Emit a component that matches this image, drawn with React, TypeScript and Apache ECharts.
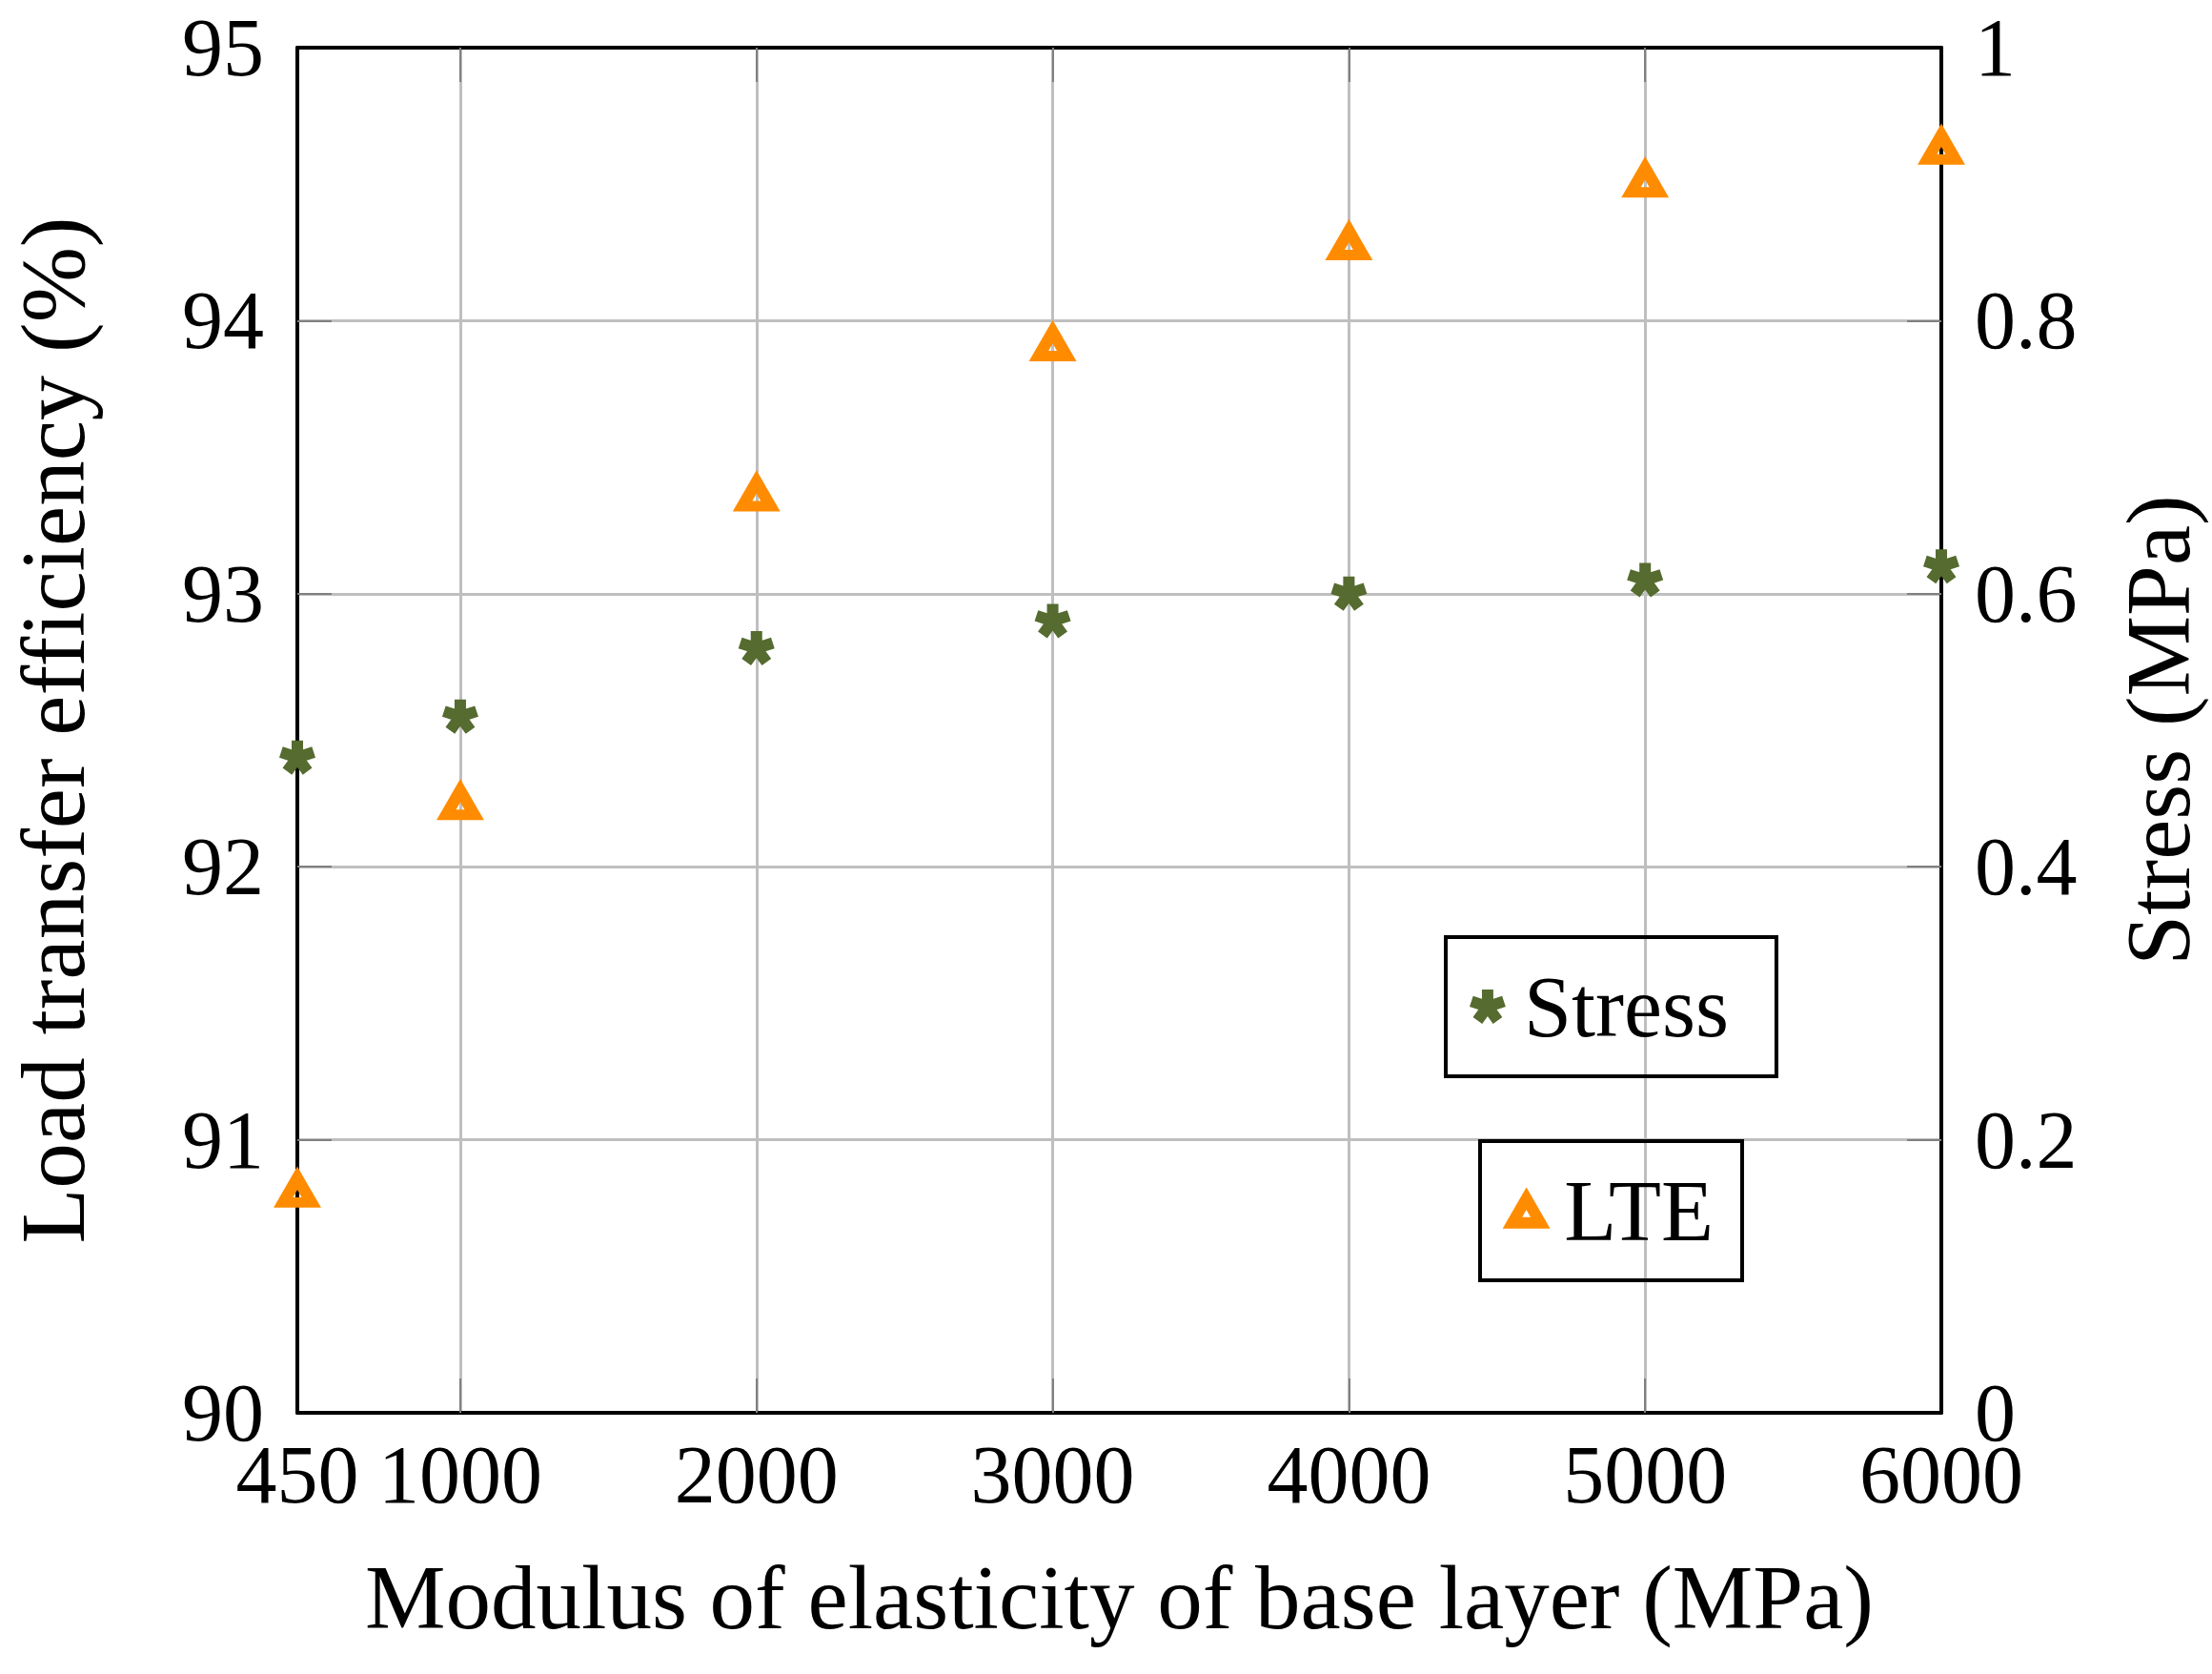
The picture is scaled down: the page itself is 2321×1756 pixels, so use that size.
import React, { useEffect, useRef } from 'react';
import * as echarts from 'echarts';

// base layer modulus (MPa)
const modulus = [450, 1000, 2000, 3000, 4000, 5000, 6000];
// load transfer efficiency (%), left axis
const lteValues = [90.8, 92.22, 93.35, 93.9, 94.27, 94.5, 94.62];
// stress (MPa), right axis
const stressValues = [0.48, 0.51, 0.56, 0.58, 0.6, 0.61, 0.62];

// tick positions (inner ones only get tick marks and grid lines, the frame covers the ends)
const xLabels = [450, 1000, 2000, 3000, 4000, 5000, 6000];
const xInnerTicks = [1000, 2000, 3000, 4000, 5000];
const lteInnerTicks = [91, 92, 93, 94];
const stressInnerTicks = [0.2, 0.4, 0.6, 0.8];

const FONT = 'Liberation Serif';
const FS = 86;
const TITLE_FS = 95;
const LEGEND_FS = 90;
const GREEN = '#556B2F';
const ORANGE = '#FF8C00';
const GRID = '#bfbfbf';
const TICK = '#808080';

// five thick strokes from the centre, like a pgfplots "star" mark
function starPath(len: number, half: number, back: number) {
  let d = '';
  for (let k = 0; k < 5; k++) {
    const a = ((-90 + 72 * k) * Math.PI) / 180;
    const dx = Math.cos(a), dy = Math.sin(a);
    const nx = -dy, ny = dx;
    const pts = [
      [-back * dx + half * nx, -back * dy + half * ny],
      [len * dx + half * nx, len * dy + half * ny],
      [len * dx - half * nx, len * dy - half * ny],
      [-back * dx - half * nx, -back * dy - half * ny],
    ];
    d += 'M' + pts.map(p => (p[0] + 20).toFixed(2) + ' ' + (p[1] + 20).toFixed(2)).join('L') + 'Z';
  }
  return 'path://' + d;
}

const STAR = starPath(18, 6, 2);
const TRI_W = 29.4, TRI_H = 25.5, TRI_BORDER = 11.8;

export default function App() {
  const ref = useRef<HTMLDivElement | null>(null);

  useEffect(() => {
    document.body.style.margin = '0';
    if (!ref.current) return;
    const chart = echarts.init(ref.current, undefined, { renderer: 'svg' });

    const axisText = { color: '#000', fontFamily: FONT, fontSize: FS };
    const titleText = { color: '#000', fontFamily: FONT, fontSize: TITLE_FS };
    const legendText = { color: '#000', fontFamily: FONT, fontSize: LEGEND_FS, lineHeight: LEGEND_FS };
    const axisLine = { show: true, lineStyle: { color: '#000', width: 4 } };
    const tick = (vals: number[]) => ({
      show: true,
      inside: true,
      length: 36,
      customValues: vals,
      lineStyle: { color: TICK, width: 2 },
    });
    const gridLine = { show: true, lineStyle: { color: GRID, width: 3 } };
    const triStyle = {
      color: 'rgba(0,0,0,0)',
      opacity: 1,
      borderColor: ORANGE,
      borderWidth: TRI_BORDER,
      borderJoin: 'miter',
      borderMiterLimit: 10,
    };

    chart.setOption({
      animation: false,
      backgroundColor: '#fff',
      textStyle: { fontFamily: FONT },
      grid: { left: 312, right: 284, top: 50, bottom: 274, containLabel: false },
      legend: [
        {
          data: [{ name: 'Stress', icon: STAR }],
          left: 1517,
          top: 983,
          orient: 'horizontal',
          selectedMode: false,
          itemWidth: 38,
          itemHeight: 36,
          padding: [28, 50, 28, 25],
          borderColor: '#000',
          borderWidth: 4,
          borderRadius: 0,
          itemStyle: { opacity: 1 },
          textStyle: { ...legendText, padding: [0, 0, 0, 14] },
        },
        {
          data: [{ name: 'LTE', icon: 'triangle', itemStyle: triStyle }],
          left: 1553,
          top: 1197,
          orient: 'horizontal',
          selectedMode: false,
          itemWidth: TRI_W,
          itemHeight: TRI_H,
          padding: [28, 30, 28, 28],
          borderColor: '#000',
          borderWidth: 4,
          borderRadius: 0,
          itemStyle: triStyle,
          textStyle: { ...legendText, padding: [0, 0, 0, 20] },
        },
      ],
      xAxis: [
        {
          type: 'value',
          position: 'bottom',
          min: 450,
          max: 6000,
          splitNumber: 5,
          name: 'Modulus of elasticity of base layer (MPa)',
          nameLocation: 'middle',
          nameGap: 146,
          nameTextStyle: titleText,
          axisLine,
          axisTick: tick(xInnerTicks),
          axisLabel: {
            ...axisText,
            margin: 22,
            customValues: xLabels,
            showMinLabel: true,
            showMaxLabel: true,
            formatter: (v: number) => String(v),
          },
          splitLine: gridLine,
        },
        {
          type: 'value',
          position: 'top',
          min: 450,
          max: 6000,
          splitNumber: 5,
          axisLine,
          axisTick: tick(xInnerTicks),
          axisLabel: { show: false },
          splitLine: { show: false },
        },
      ],
      yAxis: [
        {
          type: 'value',
          position: 'left',
          min: 90,
          max: 95,
          interval: 1,
          name: 'Load transfer efficiency (%)',
          nameLocation: 'middle',
          nameGap: 209,
          nameTextStyle: titleText,
          axisLine,
          axisTick: tick(lteInnerTicks),
          axisLabel: { ...axisText, margin: 35 },
          splitLine: gridLine,
        },
        {
          type: 'value',
          position: 'right',
          min: 0,
          max: 1,
          interval: 0.2,
          name: 'Stress (MPa)',
          nameLocation: 'middle',
          nameGap: 180,
          nameTextStyle: titleText,
          axisLine,
          axisTick: tick(stressInnerTicks),
          axisLabel: { ...axisText, margin: 35 },
          splitLine: { show: false },
        },
      ],
      series: [
        {
          name: 'Stress',
          type: 'scatter',
          xAxisIndex: 0,
          yAxisIndex: 1,
          symbol: STAR,
          symbolSize: [38, 36],
          itemStyle: { color: GREEN, opacity: 1 },
          data: modulus.map((m, i) => [m, stressValues[i]]),
        },
        {
          name: 'LTE',
          type: 'scatter',
          xAxisIndex: 0,
          yAxisIndex: 0,
          symbol: 'triangle',
          symbolSize: [TRI_W, TRI_H],
          symbolOffset: [0, -TRI_H / 6],
          itemStyle: triStyle,
          data: modulus.map((m, i) => [m, lteValues[i]]),
        },
      ],
    });

    return () => {
      chart.dispose();
    };
  }, []);

  return <div ref={ref} style={{ width: 2321, height: 1756 }} />;
}
